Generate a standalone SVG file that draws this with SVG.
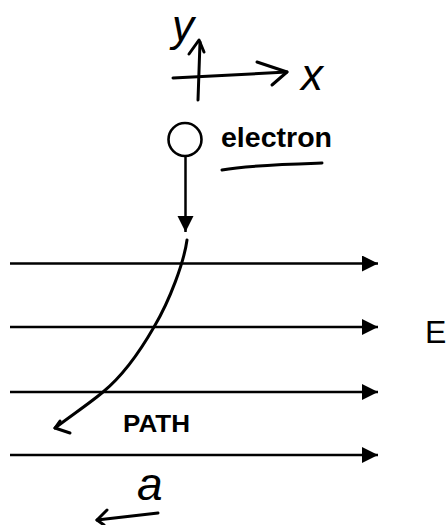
<svg xmlns="http://www.w3.org/2000/svg" width="448" height="525" viewBox="0 0 448 525">
<style>
.ink{fill:none;stroke:#000;stroke-width:3;stroke-linecap:round;stroke-linejoin:round}
.field{fill:none;stroke:#000;stroke-width:2.5}
.sans{font-family:"Liberation Sans",Arial,sans-serif;fill:#000}
.hand{font-family:"Liberation Sans",Arial,sans-serif;font-style:italic;fill:#000}
</style>
<defs>
<marker id="tri" markerUnits="userSpaceOnUse" markerWidth="20" markerHeight="20" refX="16" refY="8" orient="auto">
<path d="M0,0 L16,8 L0,16 Z" fill="#000"/>
</marker>
</defs>
<rect width="448" height="525" fill="#fff"/>
<g id="axes">
<path class="ink" d="M198,100 L200,42"/>
<path class="ink" d="M189,54 L199,40 L204,52"/>
<path class="ink" d="M173,78 L287,72"/>
<path class="ink" d="M257,62 L287,72 L272,85"/>
<text class="hand" x="172" y="41" font-size="44">y</text>
<text class="hand" x="301" y="90" font-size="44">x</text>
</g>
<g id="electron">
<circle cx="185" cy="139.5" r="16.5" fill="none" stroke="#000" stroke-width="2.6"/>
<text class="sans" x="221" y="147" font-size="28" font-weight="bold" textLength="111" lengthAdjust="spacingAndGlyphs">electron</text>
<path class="ink" d="M222,170 C250,165 290,164 322,163"/>
</g>
<g id="connectors">
<line class="field" x1="185.5" y1="157" x2="185.5" y2="232" marker-end="url(#tri)" stroke-width="2.2"/>
<line class="field" x1="10" y1="263.5" x2="378" y2="263.5" marker-end="url(#tri)"/>
<line class="field" x1="10" y1="327" x2="378" y2="327" marker-end="url(#tri)"/>
<line class="field" x1="10" y1="392" x2="378" y2="392" marker-end="url(#tri)"/>
<line class="field" x1="10" y1="455" x2="378" y2="455" marker-end="url(#tri)"/>
<path class="ink" stroke-width="2.6" d="M187,240 C184,262 170,300 154,327 C138,355 120,378 103,392 C90,403 72,415 55,428"/>
<path class="ink" stroke-width="2.6" d="M60,421 L55,428 L70,433"/>
<path class="ink" d="M158,513 L97,520"/>
<path class="ink" d="M107,510 L97,520 L104,525"/>
</g>
<g id="labels">
<text class="sans" x="425" y="343" font-size="32">E</text>
<text class="sans" x="123" y="432" font-size="24" font-weight="bold" textLength="67" lengthAdjust="spacingAndGlyphs">PATH</text>
<text class="hand" x="137" y="500" font-size="46">a</text>
</g>
</svg>
